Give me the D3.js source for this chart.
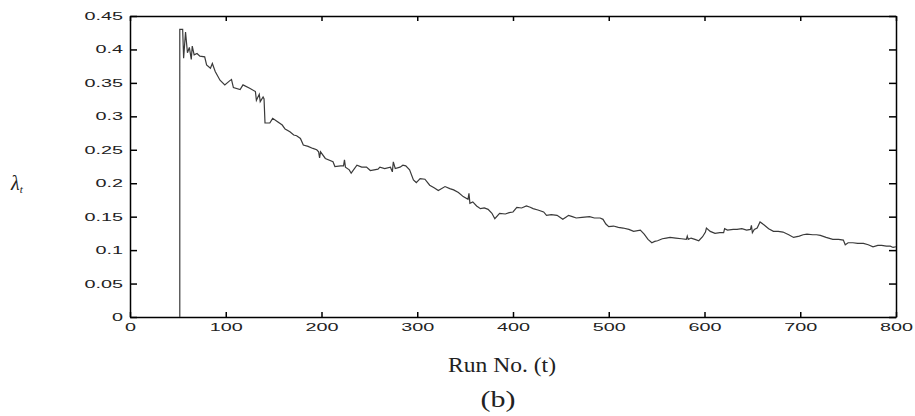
<!DOCTYPE html>
<html>
<head>
<meta charset="utf-8">
<script src="https://cdn.jsdelivr.net/npm/d3@7"></script>
<style>
  body { margin: 0; background: #fff; }
  .axis path, .axis line { stroke: #000; stroke-width: 1.5; }
  .axis text { font-family: "Liberation Sans", Arial, sans-serif; font-size: 11px; fill: #222; }
</style>
</head>
<body>
<div class="chart"></div>
<script>
// run number and lambda_t
const runs = [52, 52, 55, 56, 58, 60, 62, 64, 65, 67, 70, 73, 78, 80, 84, 86, 89, 94, 99, 104,
  106, 108, 115, 118, 125, 131, 132, 135, 136, 139, 140, 141, 146, 149, 153, 159, 162, 167, 171, 174,
  178, 181, 186, 191, 195, 197, 198, 199, 204, 212, 214, 220, 223, 224, 225, 229, 231, 237, 242, 247,
  251, 255, 259, 261, 266, 272, 274, 275, 277, 282, 285, 288, 292, 296, 299, 303, 308, 313, 318, 322,
  329, 334, 338, 343, 348, 353, 354, 355, 358, 362, 366, 370, 374, 378, 381, 386, 392, 396, 400, 404,
  409, 414, 418, 421, 426, 432, 435, 440, 446, 449, 452, 456, 458, 462, 466, 472, 480, 485, 491, 494,
  497, 500, 505, 510, 515, 521, 526, 533, 537, 541, 545, 548, 551, 556, 560, 564, 570, 576, 581, 582,
  583, 586, 590, 594, 598, 601, 602, 606, 611, 616, 620, 621, 624, 630, 634, 639, 644, 648, 649, 650,
  652, 655, 658, 662, 667, 672, 677, 682, 688, 693, 699, 703, 707, 713, 717, 721, 727, 734, 740, 745,
  747, 750, 755, 760, 766, 771, 776, 781, 785, 790, 794, 797, 800];
const lambda = [0, 0.430, 0.430, 0.387, 0.426, 0.395, 0.403, 0.385, 0.405, 0.392, 0.394, 0.390, 0.389, 0.377, 0.372, 0.379, 0.367, 0.354, 0.347, 0.353,
  0.355, 0.343, 0.340, 0.347, 0.342, 0.337, 0.324, 0.333, 0.322, 0.329, 0.326, 0.290, 0.290, 0.297, 0.293, 0.287, 0.281, 0.277, 0.272, 0.271,
  0.267, 0.257, 0.255, 0.252, 0.250, 0.247, 0.238, 0.247, 0.237, 0.232, 0.225, 0.226, 0.226, 0.235, 0.224, 0.220, 0.215, 0.227, 0.224, 0.224,
  0.219, 0.220, 0.221, 0.224, 0.222, 0.224, 0.217, 0.232, 0.222, 0.224, 0.227, 0.226, 0.220, 0.205, 0.201, 0.207, 0.206, 0.197, 0.193, 0.189,
  0.195, 0.192, 0.190, 0.186, 0.180, 0.176, 0.185, 0.170, 0.172, 0.166, 0.162, 0.163, 0.161, 0.155, 0.147, 0.155, 0.154, 0.156, 0.157, 0.164,
  0.163, 0.166, 0.164, 0.162, 0.160, 0.157, 0.152, 0.153, 0.152, 0.149, 0.146, 0.150, 0.152, 0.150, 0.148, 0.149, 0.150, 0.148, 0.148, 0.146,
  0.139, 0.135, 0.136, 0.134, 0.133, 0.131, 0.128, 0.130, 0.124, 0.116, 0.111, 0.113, 0.114, 0.117, 0.118, 0.119, 0.118, 0.117, 0.116, 0.121,
  0.116, 0.118, 0.116, 0.114, 0.120, 0.127, 0.133, 0.128, 0.125, 0.126, 0.126, 0.132, 0.130, 0.131, 0.131, 0.132, 0.130, 0.131, 0.137, 0.126,
  0.131, 0.133, 0.142, 0.138, 0.132, 0.128, 0.128, 0.127, 0.123, 0.119, 0.121, 0.123, 0.124, 0.123, 0.123, 0.122, 0.119, 0.116, 0.116, 0.115,
  0.108, 0.111, 0.111, 0.110, 0.110, 0.108, 0.105, 0.107, 0.107, 0.106, 0.106, 0.104, 0.105];

const xTicks = [0, 100, 200, 300, 400, 500, 600, 700, 800];
const yTicks = [0, 0.05, 0.1, 0.15, 0.2, 0.25, 0.3, 0.35, 0.4, 0.45];

const margin = {top: 16, left: 130, right: 19, bottom: 99};
const width = 915 - margin.left - margin.right;
const height = 416 - margin.top - margin.bottom;
const sx = 1.8; // tick labels look stretched sideways

const root = d3.select(".chart").append("svg")
    .attr("width", 915)
    .attr("height", 416);

const svg = root.append("g")
    .attr("transform", `translate(${margin.left},${margin.top})`);

const xScale = d3.scaleLinear().domain([0, 800]).range([0, width]);
const yScale = d3.scaleLinear().domain([0, 0.45]).range([height, 0]);

const fmt = d => d3.format("~g")(d);

// bottom + left carry labels, top + right only ticks (inward)
svg.append("g")
    .attr("class", "axis x-axis")
    .attr("transform", `translate(0,${height})`)
    .call(d3.axisBottom(xScale).tickValues(xTicks).tickFormat(fmt).tickSize(-5).tickSizeOuter(0).tickPadding(6));

svg.append("g")
    .attr("class", "axis y-axis")
    .call(d3.axisLeft(yScale).tickValues(yTicks).tickFormat(fmt).tickSize(-7).tickSizeOuter(0).tickPadding(7));

svg.append("g")
    .attr("class", "axis")
    .call(d3.axisTop(xScale).tickValues(xTicks).tickFormat("").tickSize(-5).tickSizeOuter(0));

svg.append("g")
    .attr("class", "axis")
    .attr("transform", `translate(${width},0)`)
    .call(d3.axisRight(yScale).tickValues(yTicks).tickFormat("").tickSize(-7).tickSizeOuter(0));

svg.selectAll(".x-axis text, .y-axis text").each(function() {
    const t = d3.select(this);
    t.attr("x", (+t.attr("x") || 0) / sx).attr("transform", `scale(${sx},1)`);
});

const line = d3.line()
    .x((d, i) => xScale(runs[i]))
    .y(d => yScale(d));

svg.append("path")
    .datum(lambda)
    .attr("fill", "none")
    .attr("stroke", "#3a3a3a")
    .attr("stroke-width", 1.2)
    .attr("d", line);

// axis titles
root.append("text")
    .attr("x", 502).attr("y", 372)
    .attr("text-anchor", "middle")
    .attr("font-family", "Liberation Serif, Times New Roman, serif")
    .attr("font-size", 20)
    .attr("fill", "#222")
    .attr("textLength", 108)
    .attr("lengthAdjust", "spacingAndGlyphs")
    .text("Run No. (t)");

root.append("text")
    .attr("x", 498).attr("y", 407)
    .attr("text-anchor", "middle")
    .attr("font-family", "Liberation Serif, Times New Roman, serif")
    .attr("font-size", 23)
    .attr("fill", "#222")
    .attr("textLength", 35)
    .attr("lengthAdjust", "spacingAndGlyphs")
    .text("(b)");

const lab = root.append("text")
    .attr("x", 11).attr("y", 190)
    .attr("font-family", "Liberation Serif, Times New Roman, serif")
    .attr("font-style", "italic")
    .attr("font-size", 20)
    .attr("fill", "#222");
lab.append("tspan").text("λ");
lab.append("tspan").attr("font-size", 11).attr("dy", 3).text("t");
</script>
</body>
</html>
